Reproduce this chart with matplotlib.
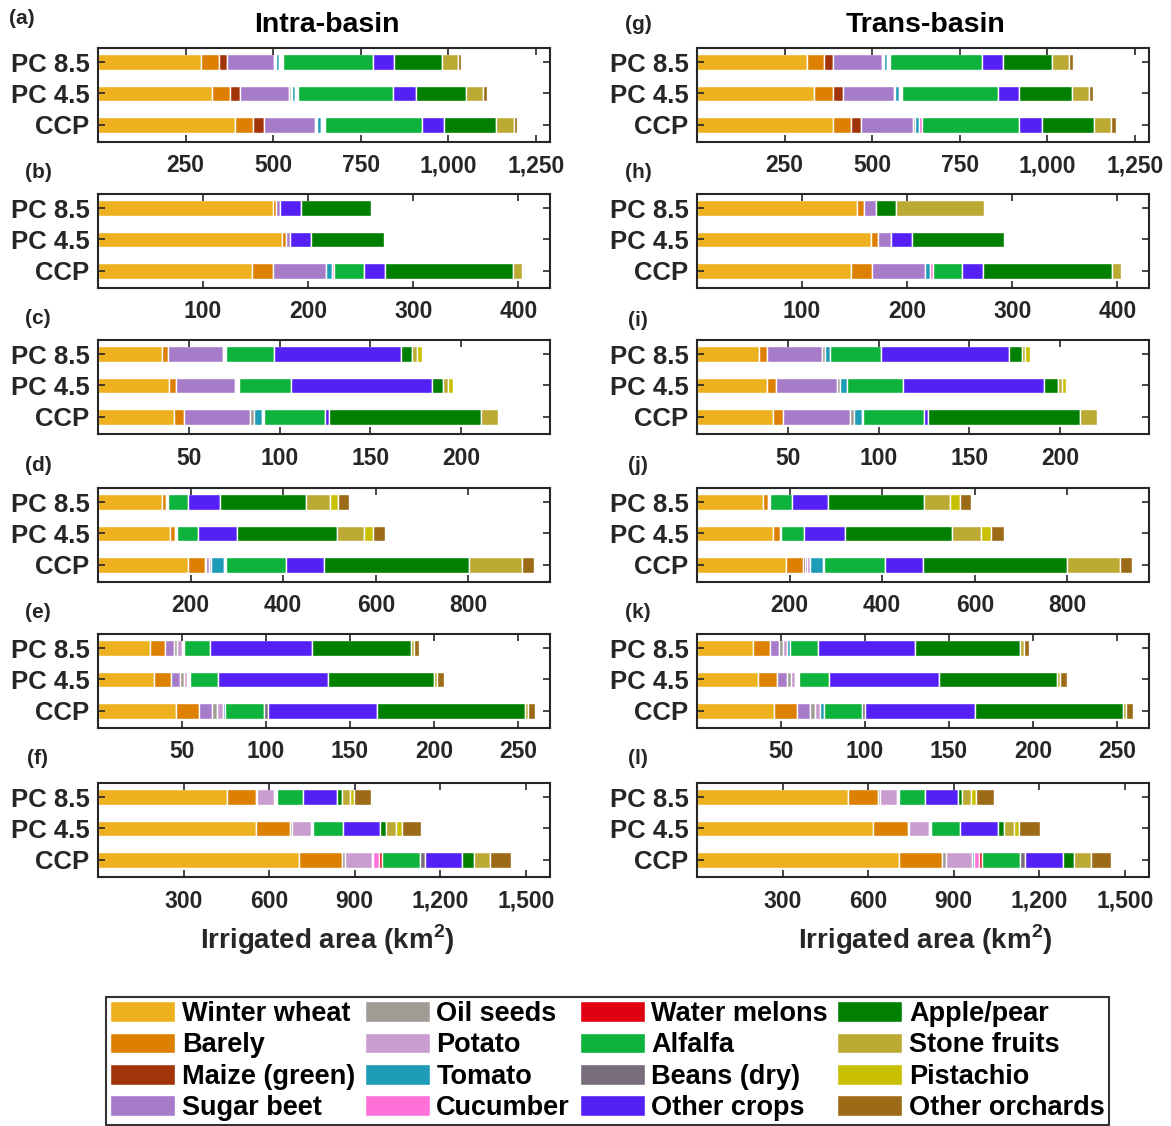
import numpy as np
import matplotlib.pyplot as plt
from matplotlib.patches import Patch
from matplotlib.ticker import FuncFormatter

plt.rcParams['font.family'] = ['Liberation Sans', 'DejaVu Sans']
plt.rcParams['font.weight'] = 'bold'
plt.rcParams['mathtext.fontset'] = 'custom'
plt.rcParams['mathtext.bf'] = 'Liberation Sans:bold'
plt.rcParams['mathtext.rm'] = 'Liberation Sans:bold'

# --- crops (legend order) and colours ---
crops = ['Winter wheat', 'Barely', 'Maize (green)', 'Sugar beet',
         'Oil seeds', 'Potato', 'Tomato', 'Cucumber',
         'Water melons', 'Alfalfa', 'Beans (dry)', 'Other crops',
         'Apple/pear', 'Stone fruits', 'Pistachio', 'Other orchards']
crop_colors = ['#EDB120', '#DD7F00', '#A2340A', '#A67BCA',
               '#A19B96', '#CA9DD0', '#1E9BB6', '#FF70D8',
               '#E0000F', '#0DB33C', '#776C7B', '#5520F5',
               '#007F00', '#BDAA35', '#C8C000', '#9C6B17']
scenarios = ['PC 8.5', 'PC 4.5', 'CCP']

# columns: 9 crops up to water melons, unlabelled white gap, then alfalfa ... other orchards
# rows: PC 8.5, PC 4.5, CCP   (km2)
panel_a = [[294.7, 49.4, 24.7, 133.0, 4.0, 3.6, 6.7, 0, 0, 12.4, 257.6, 0, 60.0, 137.0, 44.7, 0, 9.5],
           [325.6, 51.8, 27.6, 140.7, 4.0, 4.5, 7.6, 0, 0, 9.5, 271.9, 0, 63.7, 143.5, 47.5, 0, 12.4],
           [389.7, 52.8, 29.9, 146.4, 3.8, 3.8, 11.4, 0, 0, 9.5, 277.6, 0, 63.2, 148.8, 49.0, 0, 10.9]]
panel_b = [[166.3, 3.2, 0, 4.1, 0, 0, 0, 0, 0, 0, 0, 0, 19.4, 66.7, 0, 0, 0],
           [175.2, 3.2, 0, 4.4, 0, 0, 0, 0, 0, 0, 0, 0, 20.2, 68.7, 0, 0, 0],
           [146.5, 20.0, 0, 50.8, 0, 0, 4.9, 2.2, 0, 0, 28.6, 0, 19.8, 122.2, 8.4, 0, 0]]
panel_c = [[35.3, 3.3, 0, 30.0, 0, 0, 0, 0, 0, 2.0, 26.3, 0, 70.2, 5.7, 2.9, 2.6, 0],
           [38.9, 3.8, 0, 32.7, 0, 0, 0, 0, 0, 2.0, 29.0, 0, 77.6, 5.8, 2.8, 2.8, 0],
           [41.6, 6.0, 0, 36.4, 2.2, 0, 4.4, 0, 0, 0.7, 33.8, 0, 2.2, 83.8, 9.4, 0, 0]]
panel_d = [[138.4, 8.3, 0, 0, 0, 0, 0, 0, 0, 3.6, 43.2, 0, 70.3, 186.0, 50.5, 16.9, 23.8],
           [156.0, 10.1, 0, 0, 0, 0, 0, 0, 0, 4.0, 46.8, 0, 83.2, 215.1, 58.7, 19.8, 26.3],
           [193.9, 37.1, 2.9, 5.0, 0, 5.5, 28.5, 0, 0, 3.6, 130.5, 0, 80.7, 313.2, 115.3, 0, 26.3]]
panel_e = [[30.8, 9.3, 0, 5.0, 2.0, 3.0, 0, 0, 0, 0.8, 15.5, 0, 61.1, 58.5, 2.0, 0, 3.2],
           [33.2, 10.1, 0, 5.5, 2.1, 2.0, 0, 0, 0, 1.6, 16.9, 0, 65.4, 63.2, 2.0, 0, 3.7],
           [46.4, 13.5, 0, 7.8, 2.9, 3.5, 1.7, 0, 0, 0, 22.9, 2.2, 65.0, 88.0, 2.2, 0, 4.1]]
panel_f = [[453.6, 99.4, 0, 0, 5.8, 58.5, 4.0, 0, 0, 5.9, 91.2, 0, 118.7, 17.0, 28.0, 15.8, 58.5],
           [553.0, 121.6, 0, 0, 7.0, 66.6, 0, 0, 0, 7.0, 103.5, 0, 131.5, 18.7, 34.5, 21.0, 69.6],
           [704.4, 151.4, 0, 0, 11.1, 93.0, 5.8, 21.0, 8.8, 0, 132.1, 17.5, 132.1, 40.9, 57.3, 0, 71.9]]
panel_g = [[313.6, 49.8, 26.1, 138.0, 3.0, 2.7, 8.5, 0, 0, 8.5, 262.3, 0, 60.7, 140.9, 46.5, 0, 12.3],
           [334.4, 52.7, 28.5, 146.1, 4.7, 0, 9.5, 0, 0, 10.4, 272.3, 0, 61.7, 149.4, 47.9, 0, 12.3],
           [387.6, 52.2, 28.0, 148.0, 6.6, 0, 11.4, 8.5, 0, 0, 277.0, 0, 65.5, 149.4, 47.4, 0, 12.8]]
panel_h = [[152.1, 6.8, 0, 11.2, 0, 0, 0, 0, 0, 0, 0, 0, 0, 19.1, 83.5, 0, 0],
           [165.3, 7.3, 0, 11.9, 0, 0, 0, 0, 0, 0, 0, 0, 20.4, 86.9, 0, 0, 0],
           [146.4, 19.9, 0, 50.5, 0, 0, 4.6, 2.7, 0, 0, 28.3, 0, 20.1, 122.0, 8.7, 0, 0]]
panel_i = [[34.2, 4.4, 0, 30.0, 1.7, 0, 3.2, 0, 0, 0, 27.9, 0, 70.7, 7.0, 1.8, 2.5, 0],
           [38.6, 4.9, 0, 33.8, 1.7, 0, 3.6, 0, 0, 0, 30.7, 0, 77.7, 7.9, 2.3, 2.1, 0],
           [41.8, 5.7, 0, 36.8, 2.1, 0, 4.3, 0, 0, 0.9, 33.6, 0, 2.0, 83.9, 9.0, 0, 0]]
panel_j = [[143.5, 10.4, 0, 0, 0, 0, 0, 0, 0, 3.6, 46.8, 0, 79.1, 207.2, 55.8, 20.9, 24.8],
           [165.1, 14.0, 0, 0, 0, 0, 0, 0, 0, 1.4, 51.1, 0, 88.1, 230.2, 63.7, 21.9, 28.4],
           [193.2, 35.6, 3.6, 5.0, 0, 6.9, 28.4, 0, 0, 2.2, 130.9, 0, 82.7, 311.5, 112.6, 0, 27.0]]
panel_k = [[33.5, 9.7, 0, 5.6, 2.4, 2.6, 1.6, 0, 0, 0, 16.5, 0, 58.1, 62.4, 2.0, 0, 3.3],
           [36.6, 10.9, 0, 6.1, 2.5, 2.4, 0, 0, 0, 2.0, 18.3, 0, 65.5, 69.9, 2.0, 0, 4.1],
           [46.1, 13.5, 0, 7.4, 3.0, 3.4, 2.1, 0, 0, 0, 22.7, 2.0, 65.2, 88.0, 2.1, 0, 3.7]]
panel_l = [[530.8, 103.8, 0, 0, 7.0, 59.8, 0, 0, 0, 5.3, 91.5, 0, 116.7, 15.2, 31.7, 16.4, 62.2],
           [618.8, 121.4, 0, 0, 4.7, 69.2, 0, 0, 0, 7.0, 102.6, 0, 132.6, 19.9, 34.0, 18.8, 72.1],
           [707.9, 151.9, 0, 0, 11.7, 93.3, 6.5, 17.6, 11.1, 0, 132.0, 17.6, 132.6, 41.1, 58.1, 0, 69.8]]

# x ticks / limits per row of panels
row_ticks = [[250, 500, 750, 1000, 1250], [100, 200, 300, 400], [50, 100, 150, 200],
             [200, 400, 600, 800], [50, 100, 150, 200, 250], [300, 600, 900, 1200, 1500]]
row_xmax = [1290, 430, 249, 976, 269, 1585]

stack_colors = crop_colors[:9] + ['white'] + crop_colors[9:]

W, H = 1171, 1126
fig = plt.figure(figsize=(W / 100, H / 100), dpi=100)

row_tops = [48, 194, 340, 488, 634, 783]
col_left = [98, 697]
ax_w, ax_h = 452, 94

columns = [[panel_a, panel_b, panel_c, panel_d, panel_e, panel_f],
           [panel_g, panel_h, panel_i, panel_j, panel_k, panel_l]]
labels = [['(a)', '(b)', '(c)', '(d)', '(e)', '(f)'],
          ['(g)', '(h)', '(i)', '(j)', '(k)', '(l)']]
label_pos = [[(22, 18), (38, 172), (38, 318), (38, 466), (38, 612), (38, 758)],
             [(638, 25), (638, 172), (638, 320), (638, 466), (638, 612), (638, 758)]]

for c in range(2):
    for r in range(6):
        ax = fig.add_axes([col_left[c] / W, 1 - (row_tops[r] + ax_h) / H, ax_w / W, ax_h / H])
        data = np.array(columns[c][r], dtype=float)
        for i, row in enumerate(data):
            y = 3 - i
            left = 0.0
            for v, col in zip(row, stack_colors):
                if v > 0:
                    ax.barh(y, v, left=left, height=0.5, color=col,
                            edgecolor='white', linewidth=1.0)
                left += v
        ax.set_ylim(0.45, 3.45)
        ax.set_xlim(0, row_xmax[r])
        ax.set_yticks([3, 2, 1])
        ax.set_yticklabels(scenarios)
        ax.set_xticks(row_ticks[r])
        ax.xaxis.set_major_formatter(FuncFormatter(lambda x, p: f'{int(x):,}'))
        ax.tick_params(axis='both', direction='in', top=True, right=True,
                       length=5, width=1.2, colors='#262626')
        ax.tick_params(axis='x', pad=9, labelsize=16.5)
        ax.tick_params(axis='y', pad=6, labelsize=18.5)
        for s in ax.spines.values():
            s.set_linewidth(1.5)
            s.set_color('#262626')
        lx, ly = label_pos[c][r]
        fig.text(lx / W, 1 - ly / H, labels[c][r], ha='center', va='center',
                 fontsize=15, color='#262626')

fig.text(327 / W, 1 - 25 / H, 'Intra-basin', ha='center', va='center', fontsize=20.5)
fig.text(925 / W, 1 - 25 / H, 'Trans-basin', ha='center', va='center', fontsize=20.5)
for cx in (327, 925):
    fig.text(cx / W, 1 - 940 / H, r'Irrigated area (km$^{\mathbf{2}}$)', ha='center',
             va='center', fontsize=20, color='#262626')

handles = [Patch(facecolor=col, edgecolor='white') for col in crop_colors]
leg = fig.legend(handles, crops, ncol=4, loc='center', bbox_to_anchor=(607.5 / W, 1 - 1061 / H),
                 fontsize=19.5, handlelength=2.4, handleheight=0.8, handletextpad=0.25,
                 columnspacing=0.35, labelspacing=0.2, borderpad=0.15, fancybox=False,
                 frameon=True, edgecolor='black')
leg.get_frame().set_linewidth(1.5)

fig.savefig('out.png', dpi=100)
